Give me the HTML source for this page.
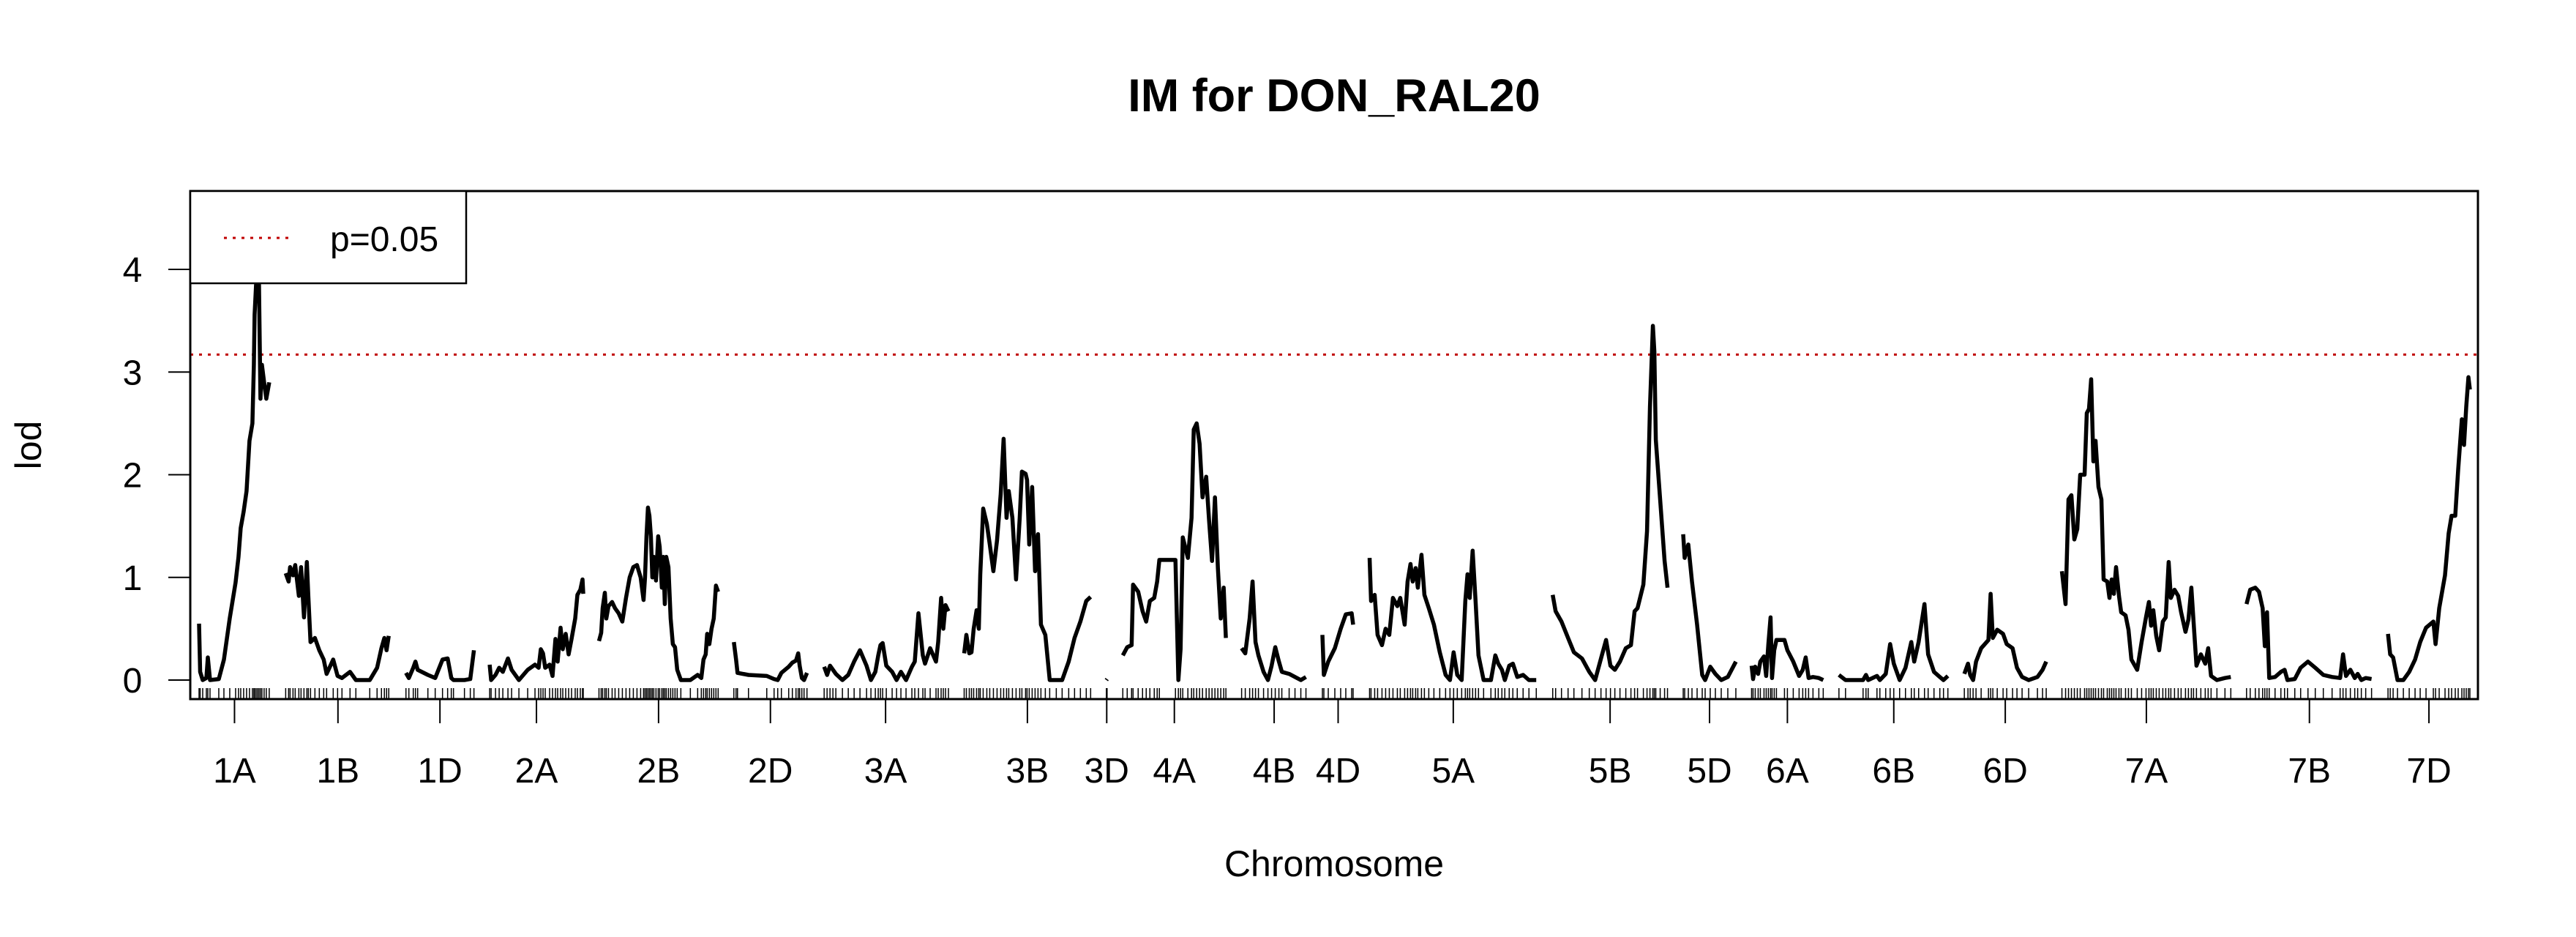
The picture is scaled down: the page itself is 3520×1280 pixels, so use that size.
<!DOCTYPE html>
<html><head><meta charset="utf-8"><style>
html,body{margin:0;padding:0;background:#fff}
svg{display:block;font-family:"Liberation Sans",Arial,sans-serif}
</style></head><body>
<svg id="chart" width="3520" height="1280" viewBox="0 0 3520 1280" xmlns="http://www.w3.org/2000/svg">
<rect x="0" y="0" width="3520" height="1280" fill="#fff"/>
<text x="1823" y="152" text-anchor="middle" font-size="63" font-weight="bold">IM for DON_RAL20</text>
<text x="1823" y="1197" text-anchor="middle" font-size="50">Chromosome</text>
<text transform="translate(56,608) rotate(-90)" text-anchor="middle" font-size="50">lod</text>
<g id="plot"></g>
</svg>
<script>
const chrNames = ["1A","1B","1D","2A","2B","2D","3A","3B","3D","4A","4B","4D","5A","5B","5D","6A","6B","6D","7A","7B","7D"];
const chrLengths = [97,143,93,128,163,100,172,173,1,141,89,43,229,157,72,98,150,112,231,172,112];
const lod1A = [[0,0.55],[1.5,0.08],[5,0],[10,0.02],[12,0.22],[15,0],[27,0.01],[34,0.2],[42,0.6],[50,0.95],[54,1.2],[57,1.48],[61,1.64],[65,1.84],[69,2.33],[73,2.5],[75,3.07],[76,3.56],[78,3.85],[80,3.88],[82,3.85],[84,2.74],[86,3.07],[89,2.9],[92,2.74],[96,2.9]];
const lod1B = [[0,1.04],[4,0.96],[6,1.1],[10,1.02],[13,1.12],[18,0.82],[21,1.1],[25,0.61],[29,1.15],[31,0.82],[34,0.37],[40,0.41],[46,0.29],[52,0.2],[56,0.06],[65,0.2],[71,0.04],[77,0.02],[88,0.08],[96,0],[115,0],[125,0.12],[131,0.31],[135,0.41],[138,0.29],[141,0.43]];
const lod1D = [[0,0.07],[4,0.02],[10,0.12],[13,0.18],[16,0.1],[30,0.05],[40,0.02],[50,0.2],[57,0.21],[62,0.02],[65,0],[80,0],[88,0.01],[93,0.29]];
const lod2A = [[0,0.15],[2,0],[8,0.05],[13,0.12],[18,0.08],[25,0.21],[30,0.1],[40,0],[52,0.1],[62,0.15],[67,0.12],[70,0.3],[73,0.26],[76,0.12],[82,0.15],[86,0.04],[90,0.4],[93,0.18],[97,0.51],[100,0.3],[104,0.45],[108,0.25],[112,0.4],[117,0.6],[120,0.83],[124,0.88],[127,0.98],[128,0.84]];
const lod2B = [[0,0.38],[3,0.46],[5,0.7],[8,0.85],[10,0.6],[13,0.72],[18,0.76],[22,0.7],[27,0.65],[32,0.57],[37,0.8],[42,1.0],[47,1.1],[52,1.12],[57,1.0],[61,0.78],[63,1.0],[65,1.4],[67,1.68],[69,1.6],[71,1.4],[73,1.0],[75,1.2],[78,0.97],[81,1.4],[83,1.3],[86,0.9],[88,1.2],[90,0.74],[92,1.2],[95,1.1],[98,0.6],[101,0.35],[104,0.32],[107,0.1],[112,0],[125,0],[135,0.05],[140,0.02],[143,0.2],[146,0.25],[148,0.45],[151,0.35],[154,0.5],[157,0.6],[160,0.92],[163,0.86]];
const lod2D = [[0,0.37],[3,0.2],[5,0.07],[20,0.05],[45,0.04],[55,0.01],[60,0],[65,0.07],[75,0.13],[80,0.17],[85,0.19],[88,0.26],[90,0.14],[93,0.02],[96,0],[100,0.07]];
const lod3A = [[2,0.13],[6,0.05],[10,0.14],[14,0.1],[18,0.06],[27,0],[35,0.05],[43,0.18],[51,0.29],[60,0.14],[66,0],[72,0.08],[76,0.24],[79,0.34],[82,0.36],[87,0.14],[95,0.08],[101,0],[107,0.08],[114,0],[122,0.13],[126,0.18],[131,0.65],[137,0.24],[140,0.16],[147,0.31],[155,0.18],[158,0.37],[162,0.8],[165,0.5],[168,0.73],[172,0.67]];
const lod3B = [[0,0.26],[3,0.44],[7,0.26],[10,0.27],[13,0.5],[17,0.68],[20,0.5],[22,1.03],[26,1.67],[31,1.52],[35,1.32],[40,1.06],[45,1.36],[50,1.81],[54,2.35],[58,1.58],[61,1.84],[66,1.58],[71,0.98],[76,1.58],[79,2.03],[84,2.01],[86,1.95],[89,1.32],[93,1.88],[97,1.06],[101,1.42],[105,0.54],[111,0.44],[117,0],[126,0],[134,0],[143,0.18],[151,0.41],[159,0.57],[167,0.77],[173,0.81]];
const lod3D = [[0,0],[1,0.01]];
const lod4A = [[0,0.24],[6,0.32],[12,0.34],[14,0.93],[21,0.86],[27,0.67],[32,0.57],[37,0.77],[43,0.8],[47,0.96],[50,1.17],[72,1.17],[76,0],[79,0.3],[82,1.39],[89,1.19],[94,1.58],[97,2.44],[101,2.5],[105,2.3],[109,1.78],[114,1.98],[118,1.55],[122,1.16],[126,1.78],[130,1.09],[134,0.6],[138,0.9],[141,0.41]];
const lod4B = [[0,0.31],[5,0.26],[11,0.6],[15,0.96],[19,0.37],[23,0.24],[30,0.08],[36,0],[41,0.14],[46,0.32],[51,0.18],[55,0.08],[65,0.06],[73,0.03],[81,0],[88,0.03]];
const lod4D = [[0,0.44],[2,0.05],[8,0.18],[17,0.31],[25,0.5],[32,0.64],[40,0.65],[42,0.54]];
const lod5A = [[0,1.19],[2,0.77],[7,0.83],[11,0.44],[17,0.34],[22,0.5],[27,0.44],[32,0.8],[38,0.72],[42,0.8],[48,0.54],[52,0.96],[56,1.13],[59,0.96],[63,1.09],[66,0.9],[71,1.22],[75,0.83],[81,0.7],[88,0.54],[96,0.27],[104,0.05],[110,0],[115,0.27],[120,0.05],[126,0],[131,0.77],[134,1.03],[137,0.8],[141,1.26],[145,0.77],[149,0.24],[156,0],[166,0],[172,0.24],[176,0.16],[181,0.1],[185,0],[191,0.14],[196,0.16],[202,0.03],[210,0.05],[218,0],[228,0]];
const lod5B = [[0,0.83],[4,0.67],[12,0.57],[21,0.41],[29,0.27],[40,0.21],[50,0.08],[58,0],[66,0.21],[73,0.39],[79,0.14],[85,0.1],[92,0.18],[100,0.31],[107,0.34],[112,0.67],[116,0.7],[124,0.93],[129,1.45],[133,2.66],[137,3.45],[139,3.2],[141,2.34],[147,1.75],[153,1.16],[157,0.9]];
const lod5D = [[0,1.42],[2,1.19],[7,1.32],[12,0.96],[19,0.54],[26,0.05],[30,0],[37,0.13],[44,0.06],[52,0],[61,0.03],[72,0.18]];
const lod6A = [[0,0.14],[2,0.01],[5,0.13],[9,0.06],[12,0.18],[17,0.23],[20,0.04],[23,0.35],[26,0.61],[28,0.02],[31,0.29],[34,0.39],[45,0.39],[49,0.29],[57,0.18],[65,0.04],[70,0.1],[74,0.22],[78,0.02],[84,0.03],[92,0.02],[98,0]];
const lod6B = [[0,0.05],[9,0],[33,0],[37,0.05],[40,0],[52,0.04],[56,0],[64,0.06],[70,0.35],[75,0.16],[83,0],[91,0.12],[99,0.37],[103,0.18],[109,0.37],[117,0.74],[122,0.25],[130,0.08],[138,0.03],[143,0],[149,0.04]];
const lod6D = [[0,0.06],[5,0.16],[8,0.05],[12,0],[16,0.18],[23,0.31],[33,0.39],[36,0.84],[39,0.41],[45,0.49],[53,0.45],[58,0.35],[66,0.31],[72,0.12],[79,0.03],[88,0],[100,0.03],[107,0.1],[112,0.18]];
const lod7A = [[0,1.06],[5,0.74],[9,1.76],[13,1.8],[17,1.37],[21,1.47],[25,2.0],[31,2.0],[34,2.6],[37,2.64],[40,2.93],[43,2.13],[46,2.33],[50,1.88],[54,1.76],[57,0.98],[62,0.96],[65,0.8],[68,0.98],[71,0.84],[74,1.1],[78,0.82],[81,0.66],[87,0.63],[91,0.49],[95,0.2],[103,0.1],[109,0.37],[115,0.61],[119,0.76],[122,0.53],[125,0.68],[129,0.43],[133,0.29],[138,0.57],[142,0.61],[146,1.15],[149,0.8],[154,0.88],[159,0.82],[163,0.66],[169,0.47],[173,0.59],[177,0.9],[180,0.57],[184,0.14],[190,0.25],[196,0.16],[200,0.31],[204,0.04],[212,0],[223,0.02],[231,0.03]];
const lod7B = [[0,0.74],[5,0.88],[12,0.9],[17,0.86],[22,0.7],[25,0.33],[28,0.66],[31,0.02],[39,0.03],[47,0.08],[52,0.1],[56,0],[66,0.01],[74,0.12],[84,0.18],[94,0.12],[105,0.05],[117,0.03],[128,0.02],[132,0.25],[136,0.04],[142,0.1],[148,0.02],[152,0.06],[157,0],[163,0.02],[171,0.01]];
const lod7D = [[0,0.45],[3,0.25],[7,0.22],[13,0],[21,0],[29,0.08],[37,0.2],[44,0.37],[52,0.51],[62,0.57],[65,0.35],[70,0.7],[78,1.02],[83,1.43],[87,1.6],[92,1.6],[96,2.05],[101,2.54],[104,2.29],[107,2.66],[110,2.95],[112,2.83]];
const lodSeries = [lod1A,lod1B,lod1D,lod2A,lod2B,lod2D,lod3A,lod3B,lod3D,lod4A,lod4B,lod4D,lod5A,lod5B,lod5D,lod6A,lod6B,lod6D,lod7A,lod7B,lod7D];
const yTicks = [0,1,2,3,4];
const threshold = 3.17;
const chrGap = 21.5;

const NS = "http://www.w3.org/2000/svg";
const g = document.getElementById("plot");
const L = 260, R = 3386, T = 261, B = 955;
const starts = [];
let acc = 12;
for (let i = 0; i < chrLengths.length; i++) { starts.push(acc); acc += chrLengths[i] + chrGap; }
const xMax = acc - chrGap + 11;
function xs(v) { return L + v / xMax * (R - L); }
function ys(v) { return 929 - v * 140.25; }
function mk(tag, attrs) { const e = document.createElementNS(NS, tag); for (const k in attrs) e.setAttribute(k, attrs[k]); g.appendChild(e); return e; }

const th = mk("line", {x1: L, x2: R, y1: ys(threshold), y2: ys(threshold), stroke: "#c00000", "stroke-width": 3, "stroke-dasharray": "4 8"});



lodSeries.forEach((pts, i) => {
  const d = pts.map((p, j) => (j ? "L" : "M") + xs(starts[i] + p[0]).toFixed(1) + " " + ys(p[1]).toFixed(1)).join(" ");
  const path = mk("path", {d: d, fill: "none", stroke: "#000", "stroke-width": 5.5, "stroke-linejoin": "round"});
  
  
  pts.forEach(p => {
    const r = mk("line", {x1: xs(starts[i] + p[0]), x2: xs(starts[i] + p[0]), y1: 940, y2: B, stroke: "#000", "stroke-width": 1.5});
    
    
  });
  const cx = xs(starts[i] + chrLengths[i] / 2);
  const tk = mk("line", {x1: cx, x2: cx, y1: B, y2: 988, stroke: "#000", "stroke-width": 2});
  
  
  const lb = mk("text", {x: cx, y: 1069, "text-anchor": "middle", "font-size": 48});
  lb.textContent = chrNames[i];
  
  
});

yTicks.forEach(v => {
  const t = mk("line", {x1: 230, x2: L, y1: ys(v), y2: ys(v), stroke: "#000", "stroke-width": 2});
  
  
  const lb = mk("text", {x: 181, y: ys(v) + 17, "text-anchor": "middle", "font-size": 48});
  lb.textContent = v;
  
  
});

const fr = mk("rect", {x: L, y: T, width: R - L, height: B - T, fill: "none", stroke: "#000", "stroke-width": 3});



const lg = mk("rect", {x: L, y: T, width: 377, height: 126, fill: "#fff", stroke: "#000", "stroke-width": 2.5});


const ll = mk("line", {x1: 306, x2: 398, y1: 325, y2: 325, stroke: "#c00000", "stroke-width": 3, "stroke-dasharray": "4 8"});


const lt = mk("text", {x: 451, y: 343, "font-size": 48});
lt.textContent = "p=0.05";


</script>
</body></html>
